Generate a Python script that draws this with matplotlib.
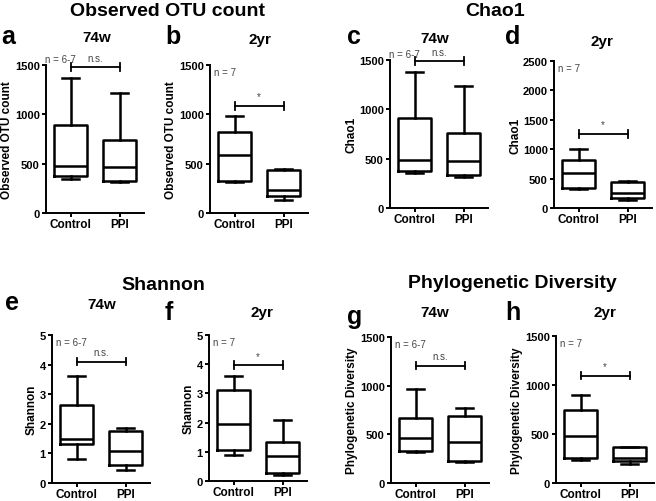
import matplotlib
matplotlib.use("Agg")
import matplotlib.pyplot as plt

plt.rcParams['font.family'] = ['Liberation Sans', 'DejaVu Sans']

groups = ['Control', 'PPI']

# box stats per group: [whisker low, Q1, median, Q3, whisker high]
otu_74w_ctrl = [345, 375, 480, 895, 1365]
otu_74w_ppi = [314, 324, 468, 735, 1216]
otu_2yr_ctrl = [314, 324, 588, 821, 985]
otu_2yr_ppi = [132, 172, 233, 436, 446]

chao_74w_ctrl = [355, 375, 488, 912, 1378]
chao_74w_ppi = [314, 334, 478, 760, 1236]
chao_2yr_ctrl = [330, 340, 595, 816, 1003]
chao_2yr_ppi = [136, 170, 255, 442, 459]

shan_74w_ctrl = [0.82, 1.31, 1.49, 2.63, 3.62]
shan_74w_ppi = [0.45, 0.61, 1.08, 1.76, 1.85]
shan_2yr_ctrl = [0.90, 1.06, 1.95, 3.13, 3.60]
shan_2yr_ppi = [0.20, 0.27, 0.85, 1.35, 2.09]

pd_74w_ctrl = [314, 331, 459, 669, 963]
pd_74w_ppi = [213, 230, 422, 686, 770]
pd_2yr_ctrl = [230, 260, 480, 743, 902]
pd_2yr_ppi = [193, 226, 253, 365, 368]

# panel letter, subtitle, y label, y max, y ticks, sig bar height, sig text, n text
panels = [
    ('a', '74w', 'Observed OTU count', 1500, [0, 500, 1000, 1500], 1480, 'n.s.', 'n = 6-7', otu_74w_ctrl, otu_74w_ppi),
    ('b', '2yr', 'Observed OTU count', 1500, [0, 500, 1000, 1500], 1085, '*', 'n = 7', otu_2yr_ctrl, otu_2yr_ppi),
    ('c', '74w', 'Chao1', 1500, [0, 500, 1000, 1500], 1490, 'n.s.', 'n = 6-7', chao_74w_ctrl, chao_74w_ppi),
    ('d', '2yr', 'Chao1', 2500, [0, 500, 1000, 1500, 2000, 2500], 1260, '*', 'n = 7', chao_2yr_ctrl, chao_2yr_ppi),
    ('e', '74w', 'Shannon', 5, [0, 1, 2, 3, 4, 5], 4.1, 'n.s.', 'n = 6-7', shan_74w_ctrl, shan_74w_ppi),
    ('f', '2yr', 'Shannon', 5, [0, 1, 2, 3, 4, 5], 3.97, '*', 'n = 7', shan_2yr_ctrl, shan_2yr_ppi),
    ('g', '74w', 'Phylogenetic Diversity', 1500, [0, 500, 1000, 1500], 1206, 'n.s.', 'n = 6-7', pd_74w_ctrl, pd_74w_ppi),
    ('h', '2yr', 'Phylogenetic Diversity', 1500, [0, 500, 1000, 1500], 1095, '*', 'n = 7', pd_2yr_ctrl, pd_2yr_ppi),
]

# layout in pixels: axes (left, top, bottom), letter (x, y), subtitle (x, y)
pix = [(46, 66, 214), (210, 66, 214), (390, 61, 209), (554, 62, 209),
       (52, 336, 484), (209, 336, 482), (391, 338, 484), (556, 337, 484)]
letter_pos = [(1, 37), (165, 37), (347, 37), (505, 37),
              (5, 303), (165, 313), (347, 317), (505, 313)]
sub_pos = [(97, 38), (260, 40), (435, 39), (602, 42),
           (102, 305), (262, 313), (435, 313), (605, 313)]

W, H = 656, 502
fig = plt.figure(figsize=(W / 100, H / 100), dpi=100)

lw = 1.8
for i, (letter, sub, ylab, ymax, yt, sig_y, sig_txt, n_txt, ctrl, ppi) in enumerate(panels):
    l, t, b = pix[i]
    ax = fig.add_axes([l / W, (H - b) / H, 98 / W, (b - t) / H])
    stats = []
    for name, v in zip(groups, [ctrl, ppi]):
        stats.append(dict(label=name, whislo=v[0], q1=v[1], med=v[2], q3=v[3], whishi=v[4], fliers=[]))
    ax.bxp(stats, positions=[1, 2], widths=0.67, showfliers=False,
           boxprops=dict(color='black', linewidth=lw),
           medianprops=dict(color='black', linewidth=lw),
           whiskerprops=dict(color='black', linewidth=lw),
           capprops=dict(color='black', linewidth=lw))
    ax.set_xlim(0.5, 2.5)
    ax.set_ylim(0, ymax)
    ax.set_yticks(yt)
    ax.set_yticklabels([str(v) for v in yt], fontweight='bold', fontsize=8)
    ax.set_xticks([1, 2])
    ax.set_xticklabels(groups, fontweight='bold', fontsize=8.5)
    ax.spines['top'].set_visible(False)
    ax.spines['right'].set_visible(False)
    ax.spines['left'].set_linewidth(1.4)
    ax.spines['bottom'].set_linewidth(1.4)
    ax.tick_params(width=1.4, length=3, pad=1.5)
    ax.tick_params(axis='x', pad=0.5)
    ax.set_ylabel(ylab, fontsize=8.5, fontweight='bold', labelpad=1)

    # significance bracket
    ax.plot([1, 2], [sig_y, sig_y], color='black', linewidth=1.3, clip_on=False)
    for xx in [1, 2]:
        ax.plot([xx, xx], [sig_y - ymax * 0.025, sig_y + ymax * 0.025], color='black', linewidth=1.3, clip_on=False)
    ax.text(1.5, sig_y + ymax * 0.03, sig_txt, ha='center', va='bottom', fontsize=7, color='#444444')

    # sample size note
    if letter in ('a', 'c'):
        ax.text(-0.01, 1.01, n_txt, transform=ax.transAxes, ha='left', va='bottom', fontsize=7, color='#444444')
    else:
        ax.text(0.04, 0.985, n_txt, transform=ax.transAxes, ha='left', va='top', fontsize=7, color='#444444')

    lx, ly = letter_pos[i]
    fig.text(lx / W, 1 - ly / H, letter, fontsize=18, fontweight='bold', ha='left', va='center')
    sx, sy = sub_pos[i]
    fig.text(sx / W, 1 - sy / H, sub, fontsize=11, fontweight='bold', ha='center', va='center')

# group titles
fig.text(168 / W, 1 - 11 / H, 'Observed OTU count', ha='center', va='center', fontsize=14, fontweight='bold')
fig.text(495 / W, 1 - 11 / H, 'Chao1', ha='center', va='center', fontsize=14, fontweight='bold')
fig.text(163 / W, 1 - 285 / H, 'Shannon', ha='center', va='center', fontsize=14, fontweight='bold')
fig.text(512 / W, 1 - 284 / H, 'Phylogenetic Diversity', ha='center', va='center', fontsize=14, fontweight='bold')

fig.savefig('out.png', dpi=100)
